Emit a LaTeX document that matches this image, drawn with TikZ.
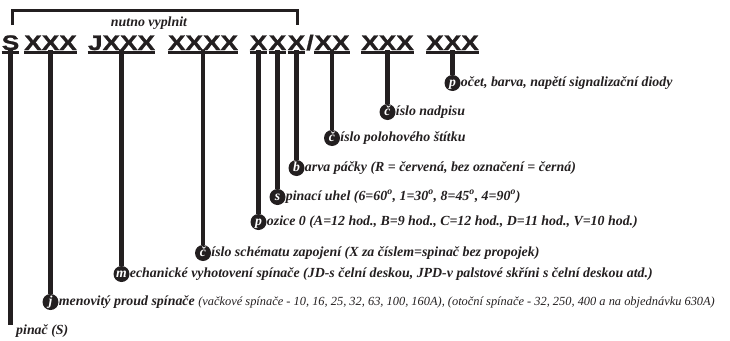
\documentclass[tikz,border=0pt]{standalone}
\usepackage{fontspec}
\setmainfont{Liberation Serif}
\newfontfamily\codefont{Liberation Sans Bold}[FakeStretch=1.25, FakeBold=1.2]
\usetikzlibrary{positioning}
\definecolor{ink}{RGB}{35,31,32}
\tikzset{
	code/.style={anchor=base, inner sep=0pt, text=ink, font=\codefont\fontsize{21}{21}\selectfont},
	uline/.style={draw=ink, line width=3pt},
	stem/.style={draw=ink, line width=4.5pt},
	dot/.style={circle, fill=ink, inner sep=0pt, minimum size=16pt, text height=9pt, text depth=3pt, text=white, font=\fontsize{13.7}{14}\selectfont\bfseries\itshape},
	lbl/.style={inner sep=0pt, text=ink, font=\fontsize{13.9}{14}\selectfont\bfseries\itshape},
}
\begin{document}
\begin{tikzpicture}[x=1pt, y=-1pt]
	\useasboundingbox (0,0) rectangle (730,340);
	% povinna cast kodu
	\draw[ink, line width=3.5pt] (12.5,25) |- (297.5,10.5) -- (297.5,25);
	\node[lbl, anchor=base] (req) at (149,26) {nutno vyplnit};
	% kod spinace
	\node[code] (s)  at (10.5,50)  {S};
	\node[code] (g1) at (50.5,50)  {XXX};
	\node[code] (g2) at (121.5,50) {JXXX};
	\node[code] (g3) at (203,50)   {XXXX};
	\node[code] (x1) at (258.5,50) {X};
	\node[code] (x2) at (277.5,50) {X};
	\node[code] (x3) at (296.5,50) {X};
	\node[code] (sl) at (310,50)   {/};
	\node[code] (g5) at (332,50)   {XX};
	\node[code] (g6) at (387.5,50) {XXX};
	\node[code] (g7) at (452.5,50) {XXX};
	\foreach \n in {s,g1,g2,g3,x1,x2,x3,g5,g6,g7}
		\draw[uline] ([yshift=-2.5pt]\n.base west) -- ([yshift=-2.5pt]\n.base east);
	% popisky
	\node[dot] (c1) at (g7.base |- 0,83) {p};
	\node[lbl, base right=0pt of c1] (t1) {očet, barva, napětí signalizační diody};
	\node[dot] (c2) at (g6.base |- 0,112) {č};
	\node[lbl, base right=0pt of c2] (t2) {íslo nadpisu};
	\node[dot] (c3) at (g5.base |- 0,138) {č};
	\node[lbl, base right=0pt of c3] (t3) {íslo polohového štítku};
	\node[dot] (c4) at (x3.base |- 0,168) {b};
	\node[lbl, base right=0pt of c4] (t4) {arva páčky (R = červená, bez označení = černá)};
	\node[dot] (c5) at (x2.base |- 0,197) {s};
	\node[lbl, base right=0pt of c5] (t5) {pinací uhel (6=60\textsuperscript{o}, 1=30\textsuperscript{o}, 8=45\textsuperscript{o}, 4=90\textsuperscript{o})};
	\node[dot] (c6) at (x1.base |- 0,222) {p};
	\node[lbl, base right=0pt of c6] (t6) {ozice 0 (A=12 hod., B=9 hod., C=12 hod., D=11 hod., V=10 hod.)};
	\node[dot] (c7) at (g3.base |- 0,253) {č};
	\node[lbl, base right=0pt of c7] (t7) {íslo schématu zapojení (X za číslem=spinač bez propojek)};
	\node[dot] (c8) at (g2.base |- 0,274) {m};
	\node[lbl, base right=0pt of c8] (t8) {echanické vyhotovení spínače (JD-s čelní deskou, JPD-v palstové skříni s čelní deskou atd.)};
	\node[dot] (c9) at (g1.base |- 0,302) {j};
	\node[lbl, base right=0pt of c9] (t9) {menovitý proud spínače {\mdseries\fontsize{12.4}{12}\selectfont (vačkové spínače - 10, 16, 25, 32, 63, 100, 160A), (otoční spínače - 32, 250, 400 a na objednávku 630A)}};
	\coordinate (send) at (s.base |- 0,325);
	\node[lbl, anchor=base west] (t0) at (16,334) {pinač (S)};
	% nozicky
	\draw[stem] (g7.base) -- (c1);
	\draw[stem] (g6.base) -- (c2);
	\draw[stem] (g5.base) -- (c3);
	\draw[stem] (x3.base) -- (c4);
	\draw[stem] (x2.base) -- (c5);
	\draw[stem] (x1.base) -- (c6);
	\draw[stem] (g3.base) -- (c7);
	\draw[stem] (g2.base) -- (c8);
	\draw[stem] (g1.base) -- (c9);
	\draw[stem] (s.base) -- (send);
\end{tikzpicture}
\end{document}
